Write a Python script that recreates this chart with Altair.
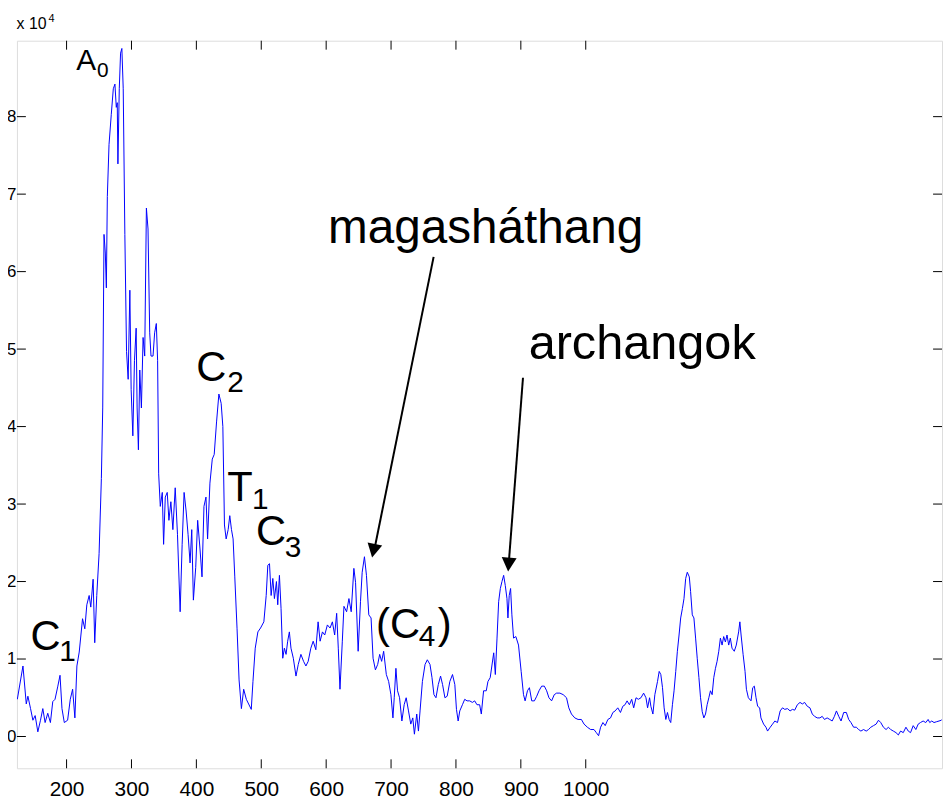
import altair as alt
import pandas as pd

# ---- curve (x in reference units, y in 1e4 units) ----
SEG_A = [(124.1,0.48),(132.8,0.91),(137.9,0.42),(140.4,0.52),(144.5,0.36),(148.1,0.21),(151.6,0.27),(155.7,0.06),
         (159.8,0.21),(163.4,0.36),(166.9,0.18),(171,0.30),(175.1,0.18),(178.7,0.45),(182.2,0.48),(186.3,0.64),
         (189.9,0.79),(192.9,0.36),(196.5,0.18),(201.6,0.21),(205.7,0.48),(209.3,0.61),(212.8,0.24),(215.9,0.91),
         (219.5,1.09),(224.6,1.52),(228.1,1.39),(231.2,1.70),(234.8,1.82),(237.3,1.67),(240.9,2.03),(243.4,1.21),
         (246.5,1.82),(250.1,2.36),(253.6,3.33),(255.7,4.24),(257.7,6.48),(259.7,6.24),(261.3,5.79),(262.8,6.97),
         (265.4,7.64),(268.9,8.03),(272,8.36),(274.5,8.42),(276.6,8.12),(278.1,8.18),(279.1,7.39),(281.2,8.36),
         (283.2,8.82),(285.2,8.88),(287.3,8.36),(289.8,6.48),(292.4,4.97),(294.9,4.61),(297.5,5.76),(299.5,4.48),
         (302.1,3.88),(304.6,4.85),(307.2,5.27),(308.7,4.24),(310.7,3.70),(312.8,4.73),(315.3,4.24),(317.9,5.15),
         (320.4,4.91),(323,6.82),(325.5,6.55),(328.1,5.21),(330.1,4.91),(333.2,4.91),(335.7,5.21),(338.3,5.33),
         (340.3,4.85),(341.9,3.39),(344.4,2.97),(347.5,3.15),(349.5,2.48),(352.1,3.09),(355.1,3.15),(357.7,2.79),
         (360.7,3.03),(363.8,2.67),(367.4,3.21),(370.9,2.61),(375,1.61),(378.1,2.48),(381.1,3.15),(384.2,2.91),
         (387.2,2.61),(390.3,2.24),(392.9,2.67),(395.4,1.76),(399,2.18),(402,2.79),(405.6,2.42),(408.7,2.06),
         (411.7,2.97),(414.8,3.09),(417.3,2.55),(420.9,3.27),(424.5,3.58),(427.5,3.64),(431.1,4.06),(434.7,4.42),
         (438.2,4.30),(440.8,4.00),(443.3,2.73),(445.9,2.55),(449,2.67),(451.5,2.85),(454.1,2.67),(456.6,2.55),
         (459.2,2.06),(462.7,1.39),(465.8,0.73),(469.4,0.36),(472.9,0.61),(477,0.48)]

SEG_B = [(484.6,0.35),(487.2,0.71),(490.7,1.14),(494.8,1.35),(498.9,1.40),(504,1.48),(507.6,1.82),(510.1,2.21),
         (512.7,2.23),(515.2,1.82),(517.8,2.04),(520.3,1.78),(523.4,2.00),(525.4,1.70),(528,2.08),(530.5,1.65),
         (533.1,1.01),(535.6,1.14),(538.2,1.06),(540.7,1.23),(543.3,1.35),(545.8,1.14),(549.4,1.01),(553.5,0.78),
         (557,0.93),(561.1,1.06),(565.2,0.97),(568.8,0.91),(572.3,0.97),(576.4,1.14),(580,1.23),(584.1,1.12),
         (587.6,1.48),(590.7,1.23),(594.3,1.35),(597.8,1.31),(601.9,1.44),(606,1.40),(609.6,1.48),(613.1,1.31),
         (616.2,1.59),(618.7,1.14),(621.3,0.61),(624.9,1.23),(627.4,1.68),(631.5,1.61),(635.1,1.78),(638.6,1.61),
         (642.7,2.17),(645.3,1.99),(649.3,1.10),(652.9,1.74),(655.5,2.12),(659,2.32),(662.1,2.08),(665.7,1.57),
         (669.2,1.53),(672.3,1.01),(675.9,0.86),(679.4,0.93),(682.5,1.06),(685.5,0.97),(688.6,1.10),(692.7,0.80),
         (696.3,0.71),(699.8,0.54),(702.9,0.24),(704.9,0.50),(707.5,0.88),(710,0.59),(713.1,0.50),(716.7,0.20),
         (720.2,0.41),(723.3,0.50),(726.9,0.33),(730.4,0.16),(733.5,0.24),(736,0.03),(739.6,0.29),(742.2,0.07),
         (744.7,0.33),(748.3,0.71),(752.4,0.93),(755.9,0.99),(760,0.93),(763.1,0.76),(766.1,0.54),(769.2,0.50),
         (772.8,0.67),(776.3,0.78),(779.4,0.67),(783,0.50),(786.5,0.52),(790.6,0.71),(794.7,0.80),(798.3,0.67),
         (800.8,0.35),(803.4,0.20),(805.9,0.33),(810,0.41),(813.5,0.48),(817.1,0.46),(821.2,0.46),(825.3,0.44),
         (828.9,0.46),(832.4,0.41),(836.5,0.41),(839.1,0.29),(842.6,0.59),(846.7,0.59),(849.3,0.71),(852.8,0.76)]

SEG_C = [(858.2,1.08),(860.7,0.80),(863.3,1.27),(865.8,1.74),(868.4,1.91),(870.9,2.00),(873.5,2.08),(876,1.95),
         (878.6,1.78),(880.1,1.53),(882.1,1.82),(884.2,1.91),(886.2,1.57),(888.8,1.27),(892.3,1.29),(896.4,1.18),
         (900.5,0.84),(904.1,0.54),(906.6,0.46),(910.2,0.59),(913.2,0.63),(916.8,0.46),(920.9,0.46),(924.5,0.52),
         (928,0.59),(932.1,0.65),(936.2,0.65),(939.8,0.59),(943.3,0.50),(947.4,0.46),(951.5,0.54),(955.1,0.56),
         (960.2,0.56),(965.3,0.54),(970.4,0.50),(973.9,0.37),(978,0.29),(983.1,0.24),(988.2,0.22),(993.3,0.22),
         (997.4,0.16),(1002.5,0.12),(1007.6,0.09),(1012.7,0.09),(1016.3,0.05),(1019.8,0.01),(1022.9,0.12),
         (1026.5,0.18),(1030,0.14),(1034.1,0.22),(1038.2,0.24),(1041.8,0.31),(1045.3,0.33),(1049.4,0.37),
         (1053.5,0.31),(1057.1,0.39),(1060.6,0.41),(1063.7,0.46),(1067.3,0.41),(1070.8,0.48),(1073.9,0.37),
         (1077.5,0.50),(1081,0.48),(1085.1,0.50),(1089.2,0.56),(1092.8,0.50),(1095.3,0.37),(1098.4,0.50),
         (1100.4,0.39),(1103.5,0.29),(1106.5,0.54),(1110.6,0.71),(1113.2,0.84),(1115.7,0.80),(1118.3,0.63),
         (1120.8,0.37),(1123.4,0.22),(1125.9,0.31),(1128.5,0.22),(1131,0.18),(1133.6,0.41),(1136.1,0.59),
         (1138.7,0.84),(1141.2,1.10),(1143.8,1.31),(1146.3,1.53),(1148.9,1.65),(1151.4,1.78),(1154,2.04),
         (1156.5,2.12),(1159.6,2.06),(1161.6,1.87),(1164.2,1.57),(1166.7,1.53),(1169.3,1.27),(1171.8,1.01),
         (1174.4,0.76),(1176.9,0.50),(1179.5,0.32),(1182,0.24),(1184.6,0.29),(1187.1,0.41),(1189.7,0.50),
         (1192.2,0.59),(1194.8,0.54),(1197.3,0.76),(1199.9,0.88),(1202.4,0.97),(1205,1.10),(1207.5,1.27),
         (1210.1,1.18),(1212.6,1.29),(1215.2,1.22),(1217.7,1.31),(1220.3,1.18),(1222.8,1.27),(1225.4,1.14),
         (1228.9,1.10),(1232,1.18),(1235.6,1.35),(1237.5,1.48)]

SEG_D = [(1239.4,1.31),(1242.5,1.06),(1245.5,0.84),(1247.6,0.61),(1250.6,0.50),(1254.7,0.46),(1257.3,0.63),
         (1259.8,0.65),(1262.4,0.50),(1264.9,0.39),(1268,0.37),(1270,0.24),(1274.1,0.16),(1277.7,0.12),(1280.2,0.07),
         (1284.3,0.12),(1287.9,0.16),(1291.4,0.20),(1295.5,0.18),(1299.6,0.33),(1303.2,0.37),(1306.7,0.35),
         (1310.8,0.36),(1314.9,0.33),(1318.5,0.35),(1322,0.34),(1326.1,0.41),(1330.2,0.44),(1333.8,0.42),
         (1337.3,0.44),(1341.4,0.39),(1345.5,0.37),(1349.1,0.29),(1352.6,0.26),(1356.7,0.24),(1360.8,0.24),
         (1364.4,0.26),(1367.9,0.22),(1372,0.24),(1376.1,0.22),(1379.7,0.20),(1383.2,0.26),(1386.3,0.33),
         (1389.9,0.26),(1393.4,0.20),(1397.5,0.31),(1401.6,0.31),(1405.2,0.22),(1408.7,0.18),(1412.8,0.12),
         (1416.9,0.12),(1420.5,0.09),(1424,0.07),(1428.1,0.09),(1432.2,0.07),(1435.8,0.09),(1439.3,0.12),
         (1443.4,0.14),(1447.5,0.16),(1451.1,0.21),(1454.6,0.18),(1458.7,0.12),(1462.8,0.09),(1466.4,0.12),
         (1469.9,0.09),(1474,0.07),(1478.1,0.05),(1481.7,0.02),(1485.2,0.07),(1489.3,0.05),(1493.4,0.12),
         (1497,0.07),(1500.5,0.05),(1504.6,0.14),(1508.7,0.09),(1512.3,0.16),(1515.8,0.18),(1519.9,0.20),
         (1524,0.18),(1527.6,0.22),(1530.1,0.18),(1533.2,0.20),(1536.7,0.18),(1540.3,0.19),(1544.4,0.20),
         (1548,0.21),(1549,0.22)]

X_DOMAIN = [123.5, 1549]
Y_DOMAIN = [-0.41, 8.98]
X_TICKS = [200, 300, 400, 500, 600, 700, 800, 900, 1000]
Y_TICKS = [0, 1, 2, 3, 4, 5, 6, 7, 8]

# annotations (data coordinates)
LABEL_TEXT = ["A", "0", "C", "1", "C", "2", "T", "1", "C", "3", "(C", "4", ")",
              "magasháthang", "archangok", "x 10", "4"]
LABEL_X = [214.8, 247.0, 144.5, 188.8, 400.0, 447.4, 447.4, 485.7, 491.8, 536.1, 676.9, 742.7, 771.8,
           603.0, 912.0, 123.0, 172.0]
LABEL_Y = [8.60, 8.51, 1.115, 0.974, 4.59, 4.449, 3.038, 2.94, 2.474, 2.32, 1.269, 1.167, 1.269,
           6.37, 4.87, 9.13, 9.22]
LABEL_SIZE = [30, 21, 42, 30, 42, 30, 42, 30, 42, 30, 42, 30, 42, 48, 49, 16, 11]

ARROW_X = [765.6, 903.3]
ARROW_Y = [6.19, 4.63]
ARROW_X2 = [674.7, 881.6]
ARROW_Y2 = [2.43, 2.26]
HEAD_X = [670.8, 880.4]
HEAD_Y = [2.31, 2.13]
HEAD_ANGLE = [11.6, 4.4]

FONT = "Liberation Sans"

pts = SEG_A + SEG_B + SEG_C + SEG_D
line_df = pd.DataFrame({"x": [p[0] for p in pts], "y": [p[1] for p in pts]})
xt_df = pd.DataFrame({"x": X_TICKS})
yt_df = pd.DataFrame({"y": Y_TICKS})
lab_df = pd.DataFrame({"x": LABEL_X, "y": LABEL_Y, "t": LABEL_TEXT, "s": LABEL_SIZE})
arr_df = pd.DataFrame({"x": ARROW_X, "y": ARROW_Y, "x2": ARROW_X2, "y2": ARROW_Y2})
head_df = pd.DataFrame({"x": HEAD_X, "y": HEAD_Y, "a": HEAD_ANGLE})

xs = alt.Scale(domain=X_DOMAIN, nice=False, zero=False)
ys = alt.Scale(domain=Y_DOMAIN, nice=False, zero=False)

x_axis = alt.Axis(values=X_TICKS, format="d", labelFont=FONT, labelFontSize=21, labelColor="black",
                  ticks=False, domain=False, grid=False, labelPadding=10, title=None)
y_axis = alt.Axis(values=Y_TICKS, format="d", labelFont=FONT, labelFontSize=17, labelColor="black",
                  ticks=False, domain=False, grid=False, labelPadding=1, title=None)

line = alt.Chart(line_df).mark_line(color="#0000ff", strokeWidth=1, clip=True).encode(
    x=alt.X("x:Q", scale=xs, axis=x_axis),
    y=alt.Y("y:Q", scale=ys, axis=y_axis),
)

TICK = 9
H = 733
W = 932
bt = alt.Chart(xt_df).mark_rule(color="black", strokeWidth=1).encode(
    x=alt.X("x:Q", scale=xs), y=alt.value(H), y2=alt.value(H - TICK))
tt = alt.Chart(xt_df).mark_rule(color="black", strokeWidth=1).encode(
    x=alt.X("x:Q", scale=xs), y=alt.value(0), y2=alt.value(TICK))
lt = alt.Chart(yt_df).mark_rule(color="black", strokeWidth=1).encode(
    y=alt.Y("y:Q", scale=ys), x=alt.value(0), x2=alt.value(TICK))
rt = alt.Chart(yt_df).mark_rule(color="black", strokeWidth=1).encode(
    y=alt.Y("y:Q", scale=ys), x=alt.value(W), x2=alt.value(W - TICK))

labels = alt.Chart(lab_df).mark_text(font=FONT, color="black", align="left", baseline="alphabetic").encode(
    x=alt.X("x:Q", scale=xs), y=alt.Y("y:Q", scale=ys), text="t:N",
    size=alt.Size("s:Q", scale=None, legend=None))

arrows = alt.Chart(arr_df).mark_rule(color="black", strokeWidth=2).encode(
    x=alt.X("x:Q", scale=xs), y=alt.Y("y:Q", scale=ys), x2="x2:Q", y2="y2:Q")

heads = alt.Chart(head_df).mark_point(
    shape="M -1 -1.87 L 1 -1.87 L 0 0 Z", filled=True, color="black", opacity=1, size=225, strokeWidth=0
).encode(x=alt.X("x:Q", scale=xs), y=alt.Y("y:Q", scale=ys), angle=alt.Angle("a:Q", scale=None))

chart = alt.layer(line, bt, tt, lt, rt, arrows, heads, labels).properties(
    width=W, height=H,
    padding={"left": 9, "top": 30, "right": 1, "bottom": 28},
    autosize=alt.AutoSizeParams(type="none"),
).configure_view(stroke="black", strokeWidth=1).configure(background="white")

chart.save("out.html", embed_options={"renderer": "svg", "actions": False})
